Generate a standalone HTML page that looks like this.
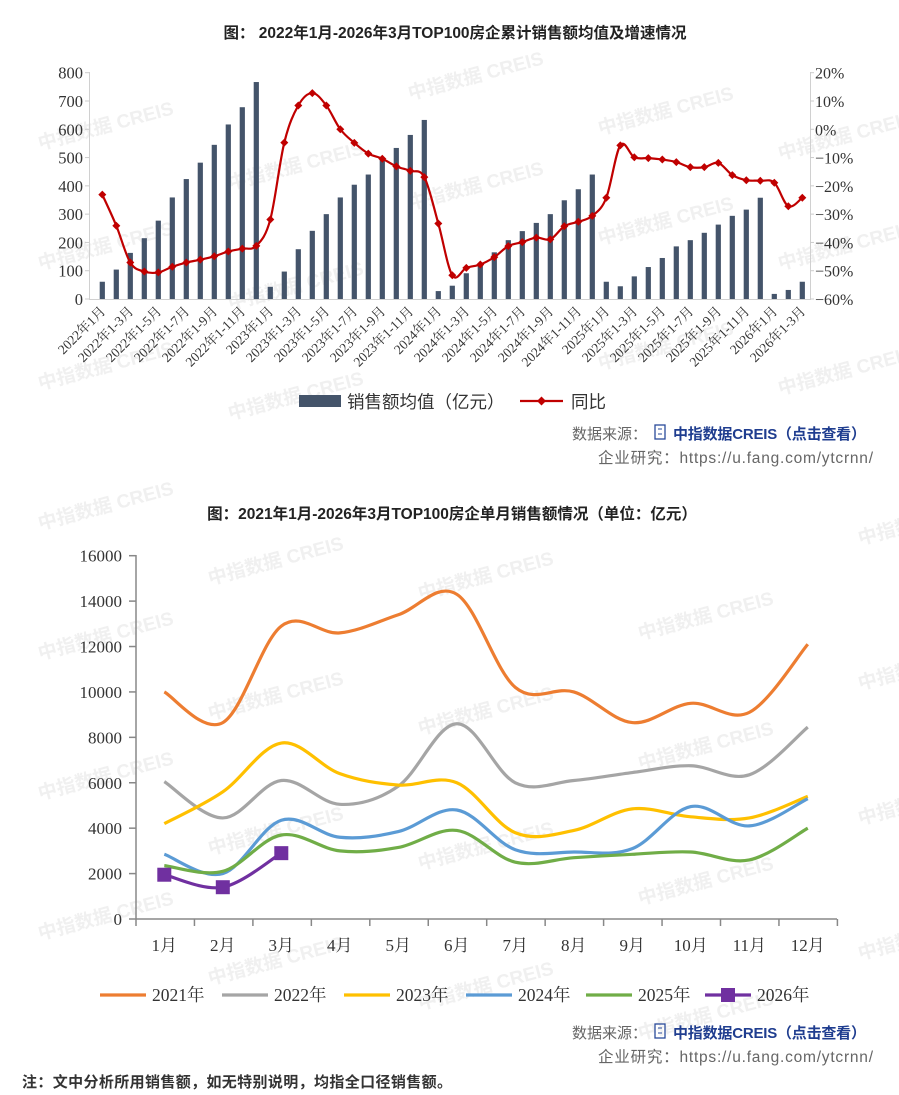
<!DOCTYPE html>
<html><head><meta charset="utf-8">
<style>
body{margin:0;background:#fff;width:899px;height:1095px;overflow:hidden;font-family:"Liberation Sans","Noto Sans CJK SC",sans-serif;}
svg{position:absolute;left:0;top:0}
</style></head><body>
<svg id="s" width="899" height="1095" xmlns="http://www.w3.org/2000/svg"></svg>
<script>
const S=document.getElementById('s');let h='';
const SER='font-family="Liberation Serif,Noto Serif CJK SC,serif"';
const SAN='font-family="Liberation Sans,Noto Sans CJK SC,sans-serif"';
const wm=[[40,150],[230,190],[410,100],[600,135],[780,160],[40,270],[230,310],[410,210],[600,245],[780,270],[40,390],[230,420],[600,370],[780,395],
[40,530],[210,585],[420,600],[640,640],[860,545],[40,660],[210,720],[420,735],[640,770],[860,690],[40,800],[210,855],[420,870],[640,905],[860,825],[40,940],[210,985],[420,1010],[640,1040],[860,960]];
wm.forEach(([x,y])=>{h+=`<text x="${x}" y="${y}" transform="rotate(-15 ${x} ${y})" ${SAN} font-size="19" font-weight="bold" fill="#f0f0f0">中指数据 CREIS</text>`});
h+=`<text x="455" y="38" text-anchor="middle" ${SAN} font-size="15.5" font-weight="bold" fill="#222">图： 2022年1月-2026年3月TOP100房企累计销售额均值及增速情况</text>`;
const y0=299,yTop=72.7,sc=(y0-yTop)/800;
const X=i=>102.3+i*14.0;
h+=`<line x1="89.5" y1="72" x2="89.5" y2="299" stroke="#d0d0d0"/><line x1="89" y1="299.5" x2="811" y2="299.5" stroke="#d0d0d0"/><line x1="810.5" y1="72" x2="810.5" y2="299" stroke="#d0d0d0"/>`;
for(let v=0;v<=800;v+=100){const y=y0-v*sc;h+=`<text x="83" y="${y+6}" text-anchor="end" ${SER} font-size="16.5" fill="#333">${v}</text><line x1="85" x2="89" y1="${y}" y2="${y}" stroke="#ccc"/>`;}
for(let p=20,k=0;p>=-60;p-=10,k++){const y=yTop+k*(y0-yTop)/8;h+=`<text x="815" y="${y+6}" ${SER} font-size="16" fill="#333">${p===0?'0%':(p<0?'−'+(-p)+'%':p+'%')}</text><line x1="810" x2="814" y1="${y}" y2="${y}" stroke="#ccc"/>`;}
const bars=[61,104,163,215,277,359,424,482,545,617,678,767,43,97,176,241,300,359,404,440,496,534,580,633,28,47,91,126,165,208,240,269,300,349,388,440,61,45,80,113,145,186,208,234,263,294,316,358,18,32,61];
bars.forEach((v,i)=>{h+=`<rect x="${X(i)-2.6}" y="${y0-v*sc}" width="5.2" height="${v*sc}" fill="#44546a"/>`});
const pct=[-23.1,-34.1,-47.1,-50.3,-50.6,-48.6,-47.1,-46.1,-44.9,-43.2,-42.2,-41.2,-31.9,-4.7,8.4,12.8,8.4,0,-4.8,-8.6,-10.4,-13.1,-14.7,-16.9,-33.3,-51.6,-49,-47.8,-45.2,-41.3,-39.9,-38.3,-38.9,-34.3,-32.7,-30.6,-24.2,-5.7,-9.9,-10.2,-10.7,-11.6,-13.4,-13.4,-11.9,-16.2,-18,-18.2,-18.9,-27.2,-24.2];
const PY=p=>yTop+(20-p)*(y0-yTop)/80;
function smooth(pts,t){let d=`M${pts[0][0]},${pts[0][1]}`;for(let i=0;i<pts.length-1;i++){const p0=pts[i-1]||pts[i],p1=pts[i],p2=pts[i+1],p3=pts[i+2]||p2;d+=` C${p1[0]+(p2[0]-p0[0])*t},${p1[1]+(p2[1]-p0[1])*t} ${p2[0]-(p3[0]-p1[0])*t},${p2[1]-(p3[1]-p1[1])*t} ${p2[0]},${p2[1]}`;}return d;}
const lp=pct.map((p,i)=>[X(i),PY(p)]);
h+=`<path d="${smooth(lp,0.17)}" fill="none" stroke="#c00000" stroke-width="2.2"/>`;
lp.forEach(([x,y])=>{h+=`<path d="M${x-4},${y} L${x},${y-4} L${x+4},${y} L${x},${y+4}Z" fill="#c00000"/>`});
for(let i=0;i<51;i+=2){const yr=2022+Math.floor(i/12),m=i%12+1;const t=m===1?`${yr}年1月`:`${yr}年1-${m}月`;const x=X(i)+4;h+=`<text x="${x}" y="312" transform="rotate(-45 ${x} 312)" text-anchor="end" ${SER} font-size="13.5" fill="#333">${t}</text>`;}
h+=`<rect x="299" y="395" width="42" height="12" fill="#44546a"/><text x="347" y="408" ${SAN} font-size="17.5" fill="#333">销售额均值（亿元）</text>`;
h+=`<line x1="520" y1="401" x2="563" y2="401" stroke="#c00000" stroke-width="2.2"/><path d="M537,401 L541.5,396.5 L546,401 L541.5,405.5Z" fill="#c00000"/><text x="571" y="408" ${SAN} font-size="17.5" fill="#333">同比</text>`;
function src(y){return `<text x="572" y="${y}" ${SAN} font-size="15" fill="#666">数据来源：</text><rect x="655" y="${y-14}" width="10" height="14" fill="none" stroke="#2a4a9a" stroke-width="1.3"/><line x1="658" x2="662" y1="${y-10}" y2="${y-10}" stroke="#2a4a9a"/><line x1="658" x2="662" y1="${y-5}" y2="${y-5}" stroke="#2a4a9a"/><text x="673" y="${y}" ${SAN} font-size="15" font-weight="bold" fill="#1f3d8f" textLength="193">中指数据CREIS（点击查看）</text><text x="873" y="${y+24}" text-anchor="end" ${SAN} font-size="15.5" fill="#666" textLength="275">企业研究：https://u.fang.com/ytcrnn/</text>`;}
h+=src(439);
h+=`<text x="452" y="519" text-anchor="middle" ${SAN} font-size="15.5" font-weight="bold" fill="#222">图：2021年1月-2026年3月TOP100房企单月销售额情况（单位：亿元）</text>`;
const b0=919,bT=555.7,bs=(b0-bT)/16000;const BX=i=>164.3+i*58.5;
h+=`<line x1="136" y1="555" x2="136" y2="919" stroke="#888" stroke-width="1.5"/><line x1="136" y1="919" x2="837" y2="919" stroke="#888" stroke-width="1.5"/>`;
for(let v=0;v<=16000;v+=2000){const y=b0-v*bs;h+=`<line x1="129" x2="136" y1="${y}" y2="${y}" stroke="#888" stroke-width="1.5"/><text x="122" y="${y+6}" text-anchor="end" ${SER} font-size="17" fill="#333">${v}</text>`;}
for(let i=0;i<=12;i++){const x=136+i*58.45;h+=`<line x1="${x}" x2="${x}" y1="919" y2="926" stroke="#888" stroke-width="1.5"/>`;}
for(let i=0;i<12;i++){h+=`<text x="${BX(i)}" y="951" text-anchor="middle" ${SER} font-size="17" fill="#333">${i+1}月</text>`;}
const series=[
['#ed7d31',[10000,8650,12900,12600,13400,14300,10200,10000,8650,9500,9100,12100]],
['#a5a5a5',[6050,4450,6100,5050,5850,8600,6000,6100,6450,6750,6350,8450]],
['#ffc000',[4200,5600,7750,6400,5900,6000,3800,3900,4850,4500,4450,5400]],
['#5b9bd5',[2850,2000,4350,3600,3850,4800,3050,2950,3100,4950,4100,5300]],
['#70ad47',[2350,2100,3700,3000,3150,3900,2500,2700,2850,2950,2600,4000]],
['#7030a0',[1950,1400,2900]]];
series.forEach(([c,d])=>{const pts=d.map((v,i)=>[BX(i),b0-v*bs]);h+=`<path d="${smooth(pts,0.17)}" fill="none" stroke="${c}" stroke-width="3.2"/>`;if(c==='#7030a0')pts.forEach(([x,y])=>{h+=`<rect x="${x-7}" y="${y-7}" width="14" height="14" fill="${c}"/>`});});
const lg=[[100,'2021年'],[222,'2022年'],[344,'2023年'],[466,'2024年'],[586,'2025年'],[705,'2026年']];
lg.forEach(([x,t],k)=>{const c=series[k][0];h+=`<line x1="${x}" x2="${x+46}" y1="995" y2="995" stroke="${c}" stroke-width="3.2"/>`;if(k===5)h+=`<rect x="${x+16}" y="988" width="14" height="14" fill="${c}"/>`;h+=`<text x="${x+52}" y="1001" ${SER} font-size="17.5" fill="#333">${t}</text>`;});
h+=src(1038);
h+=`<text x="22" y="1087" ${SAN} font-size="15" font-weight="bold" fill="#333" textLength="430">注：文中分析所用销售额，如无特别说明，均指全口径销售额。</text>`;
S.innerHTML=h;
</script>
</body></html>
